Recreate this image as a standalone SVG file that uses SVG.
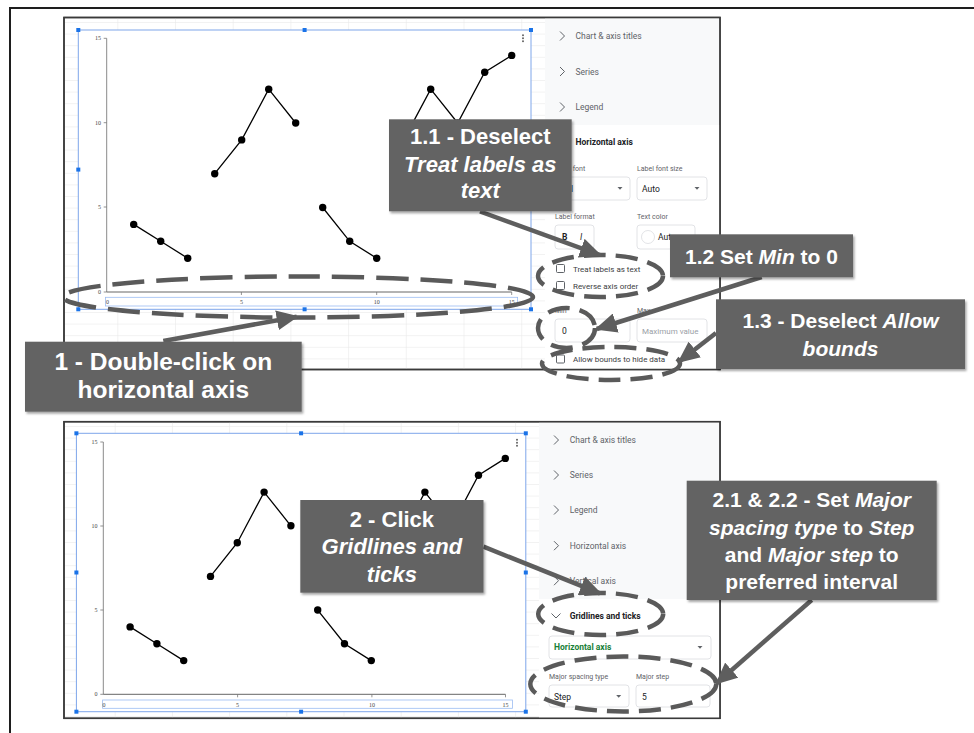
<svg xmlns="http://www.w3.org/2000/svg" width="974" height="733" viewBox="0 0 974 733">
<defs>
<style>
.frame{fill:none;stroke:#1e1e1e;stroke-width:2}
.shot{fill:#fff;stroke:#3a3a3a;stroke-width:1.5}
.shotb{fill:none;stroke:#3a3a3a;stroke-width:1.5}
.chartbg{fill:#fff}
.sel{fill:none;stroke:#7ea6ea;stroke-width:1}
.hdl{fill:#1a73e8}
.axsel{fill:none;stroke:#9bbcf2;stroke-width:0.8}
.yax{stroke:#8a8a8a;stroke-width:1;fill:none}
.xax{stroke:#666;stroke-width:1;fill:none}
.tick{stroke:#777;stroke-width:0.8}
.tl{font-family:"Liberation Serif",serif;font-size:6px;fill:#444}
.ser{fill:none;stroke:#000;stroke-width:1.3}
.dot{fill:#000}
.panel{fill:#f8f9fa}
.card{fill:#fff}
.pt{font-family:Roboto,"Liberation Sans",sans-serif;font-size:8.5px;fill:#5f6368}
.ph{font-family:Roboto,"Liberation Sans",sans-serif;font-size:8.5px;fill:#202124;font-weight:bold}
.pl{font-family:Roboto,"Liberation Sans",sans-serif;font-size:7px;fill:#5f6368}
.pv{font-family:Roboto,"Liberation Sans",sans-serif;font-size:8.5px;fill:#202124}
.pc{font-family:Roboto,"Liberation Sans",sans-serif;font-size:8px;fill:#3c4043}
.pp{font-family:Roboto,"Liberation Sans",sans-serif;font-size:8px;fill:#9aa0a6}
.pg{font-family:Roboto,"Liberation Sans",sans-serif;font-size:8.5px;fill:#188038;font-weight:bold}
.box{fill:#fff;stroke:#dadce0;stroke-width:0.8}
.chk{fill:#fff;stroke:#5f6368;stroke-width:1}
.chev{fill:none;stroke:#5f6368;stroke-width:1}
.dd{fill:#5f6368}
.co{fill:#646464;filter:url(#sh)}
.ct{font-family:"Liberation Sans",Arial,sans-serif;font-weight:bold;fill:#fff;text-anchor:middle}
.arr{stroke:#5e5e5e;stroke-width:4.5;fill:none;marker-end:url(#ah)}
.ell{fill:none;stroke:#5a5a5a;stroke-width:4.5;stroke-dasharray:22 10}
.ellb{fill:none;stroke:#5a5a5a;stroke-width:4.5;stroke-dasharray:32 12}
.menu{fill:#666}
</style>
<filter id="sh" x="-10%" y="-10%" width="130%" height="140%">
<feDropShadow dx="1.5" dy="2" stdDeviation="1.2" flood-color="#000" flood-opacity="0.35"/>
</filter>
<marker id="ah" viewBox="0 0 22 20" refX="20" refY="10" markerWidth="22" markerHeight="20" markerUnits="userSpaceOnUse" orient="auto">
<path d="M0,0 L22,10 L0,20 z" fill="#5e5e5e"/>
</marker>
<pattern id="grid1" x="117.3" y="22" width="57.7" height="11.6" patternUnits="userSpaceOnUse">
<path d="M0,0 V11.6 M0,0 H57.7" stroke="#e6e6e6" stroke-width="1" fill="none"/>
</pattern>
<pattern id="grid2" x="114.7" y="426" width="57.2" height="11.6" patternUnits="userSpaceOnUse">
<path d="M0,0 V11.6 M0,0 H57.2" stroke="#e6e6e6" stroke-width="1" fill="none"/>
</pattern>
</defs>

<rect width="974" height="733" fill="#fff"/>
<path class="frame" d="M10,745 V8 H985"/>

<!-- TOP SCREENSHOT -->
<g id="screenshot1">
<rect class="shot" x="64" y="17.5" width="656" height="352"/>
<rect x="65" y="18.3" width="480" height="350.5" fill="url(#grid1)"/>
<rect class="chartbg" x="78.3" y="30" width="452.7" height="279"/>
<g id="chart1">
<path class="yax" d="M106.7,38.3 V292"/>
<path class="tick" d="M103.7,38.3 H106.7 M103.7,122.7 H106.7 M103.7,207 H106.7 M103.7,292 H106.7"/>
<path class="xax" d="M106.7,292 H511.7"/>
<path class="tick" d="M241.4,292 V295 M376.7,292 V295 M511.7,292 V295"/>
<text class="tl" x="101" y="40.3" text-anchor="end">15</text>
<text class="tl" x="101" y="124.7" text-anchor="end">10</text>
<text class="tl" x="101" y="209" text-anchor="end">5</text>
<text class="tl" x="101" y="294" text-anchor="end">0</text>
<rect class="axsel" x="105.4" y="297.3" width="412.2" height="8.7"/>
<text class="tl" x="107.5" y="304" text-anchor="middle">0</text>
<text class="tl" x="241.4" y="304" text-anchor="middle">5</text>
<text class="tl" x="376.7" y="304" text-anchor="middle">10</text>
<text class="tl" x="511.7" y="304" text-anchor="middle">15</text>
<polyline class="ser" points="133.7,224.4 160.7,241.3 187.7,258.2"/>
<polyline class="ser" points="214.7,173.7 241.7,139.9 268.7,89.2 295.7,123"/>
<polyline class="ser" points="322.7,207.5 349.7,241.3 376.7,258.2"/>
<polyline class="ser" points="403.7,139.9 430.7,89.2 457.7,123 484.7,72.3 511.7,55.4"/>
<g class="dot">
<circle cx="133.7" cy="224.4" r="3.7"/><circle cx="160.7" cy="241.3" r="3.7"/><circle cx="187.7" cy="258.2" r="3.7"/>
<circle cx="214.7" cy="173.7" r="3.7"/><circle cx="241.7" cy="139.9" r="3.7"/><circle cx="268.7" cy="89.2" r="3.7"/><circle cx="295.7" cy="123" r="3.7"/>
<circle cx="322.7" cy="207.5" r="3.7"/><circle cx="349.7" cy="241.3" r="3.7"/><circle cx="376.7" cy="258.2" r="3.7"/>
<circle cx="403.7" cy="139.9" r="3.7"/><circle cx="430.7" cy="89.2" r="3.7"/><circle cx="457.7" cy="123" r="3.7"/><circle cx="484.7" cy="72.3" r="3.7"/><circle cx="511.7" cy="55.4" r="3.7"/>
</g>
<g class="menu"><circle cx="523" cy="35.3" r="1"/><circle cx="523" cy="38.3" r="1"/><circle cx="523" cy="41.3" r="1"/></g>
</g>
<rect class="sel" x="78.3" y="30" width="452.7" height="279.3"/>
<g class="hdl">
<rect x="76.3" y="28" width="4" height="4"/><rect x="302.6" y="28" width="4" height="4"/><rect x="529" y="28" width="4" height="4"/>
<rect x="76.3" y="167.6" width="4" height="4"/><rect x="529" y="167.6" width="4" height="4"/>
<rect x="76.3" y="307.3" width="4" height="4"/><rect x="302.6" y="307.3" width="4" height="4"/><rect x="529" y="307.3" width="4" height="4"/>
</g>
<g id="panel1">
<rect class="panel" x="545" y="18.3" width="174.2" height="350.5"/>
<rect class="card" x="545" y="125" width="174.2" height="243.8"/>
<polyline class="chev" points="560,31.5 564.5,36 560,40.5"/>
<text class="pt" x="575.5" y="39">Chart &amp; axis titles</text>
<polyline class="chev" points="560,67 564.5,71.5 560,76"/>
<text class="pt" x="575.5" y="74.5">Series</text>
<polyline class="chev" points="560,102.5 564.5,107 560,111.5"/>
<text class="pt" x="575.5" y="110">Legend</text>
<text class="ph" x="575.5" y="145">Horizontal axis</text>
<text class="pl" x="554" y="170.5">Label font</text>
<text class="pl" x="637" y="170.5">Label font size</text>
<rect class="box" x="555" y="177" width="75" height="23" rx="3"/>
<text class="pv" x="556" y="191.5">Arial</text>
<path class="dd" d="M617.5,187 h5 l-2.5,2.8 z"/>
<rect class="box" x="637" y="177" width="70" height="23" rx="3"/>
<text class="pv" x="642" y="191.5">Auto</text>
<path class="dd" d="M694.5,187 h5 l-2.5,2.8 z"/>
<text class="pl" x="555" y="218.5">Label format</text>
<text class="pl" x="637" y="218.5">Text color</text>
<rect class="box" x="555" y="225" width="39" height="24" rx="3"/>
<text class="pv" x="562" y="240" font-weight="bold" fill="#5f6368">B</text>
<text class="pv" x="580" y="240" font-style="italic" fill="#5f6368">I</text>
<rect class="box" x="637" y="225" width="58" height="24" rx="3"/>
<circle cx="648" cy="237" r="6.5" fill="#fff" stroke="#dadce0" stroke-width="0.8"/>
<text class="pv" x="658" y="240">Auto</text>
<rect class="chk" x="556.5" y="264.5" width="8" height="8" rx="1"/>
<text class="pc" x="573" y="271.5">Treat labels as text</text>
<rect class="chk" x="556.5" y="281.5" width="8" height="8" rx="1"/>
<text class="pc" x="573" y="288.5">Reverse axis order</text>
<text class="pl" x="555" y="312.5">Min</text>
<text class="pl" x="637" y="312.5">Max</text>
<rect class="box" x="555" y="319" width="75" height="23" rx="3"/>
<text class="pv" x="562" y="334">0</text>
<rect class="box" x="637" y="319" width="70" height="23" rx="3"/>
<text class="pp" x="642" y="334">Maximum value</text>
<rect class="chk" x="556.5" y="355" width="8" height="8" rx="1"/>
<text class="pc" x="573" y="362">Allow bounds to hide data</text>
</g>
<rect class="shotb" x="64" y="17.5" width="656" height="352"/>
</g>

<!-- BOTTOM SCREENSHOT -->
<g id="screenshot2">
<rect class="shot" x="64" y="421.7" width="656" height="296.6"/>
<rect x="65" y="422.5" width="475" height="295" fill="url(#grid2)"/>
<rect class="chartbg" x="76.4" y="433.3" width="449.4" height="278.4"/>
<g id="chart2">
<path class="yax" d="M103.3,442 V694.3"/>
<path class="tick" d="M100.3,442 H103.3 M100.3,526 H103.3 M100.3,610 H103.3 M100.3,694.3 H103.3"/>
<path class="xax" d="M103.3,694.3 H505.5"/>
<path class="tick" d="M237.6,694.3 V697.3 M371.9,694.3 V697.3 M505.5,694.3 V697.3"/>
<text class="tl" x="97.5" y="444" text-anchor="end">15</text>
<text class="tl" x="97.5" y="528" text-anchor="end">10</text>
<text class="tl" x="97.5" y="612" text-anchor="end">5</text>
<text class="tl" x="97.5" y="696.3" text-anchor="end">0</text>
<rect class="axsel" x="102.6" y="700" width="409.8" height="8.3"/>
<text class="tl" x="104" y="706.5" text-anchor="middle">0</text>
<text class="tl" x="237.6" y="706.5" text-anchor="middle">5</text>
<text class="tl" x="371.9" y="706.5" text-anchor="middle">10</text>
<text class="tl" x="505.5" y="706.5" text-anchor="middle">15</text>
<polyline class="ser" points="130.1,626.9 156.9,643.75 183.7,660.6"/>
<polyline class="ser" points="210.5,576.4 237.3,542.7 264.1,492.1 290.9,525.8"/>
<polyline class="ser" points="317.7,610.05 344.5,643.75 371.3,660.6"/>
<polyline class="ser" points="398.1,542.7 424.9,492.1 451.7,525.8 478.5,475.25 505.3,458.4"/>
<g class="dot">
<circle cx="130.1" cy="626.9" r="3.7"/><circle cx="156.9" cy="643.75" r="3.7"/><circle cx="183.7" cy="660.6" r="3.7"/>
<circle cx="210.5" cy="576.4" r="3.7"/><circle cx="237.3" cy="542.7" r="3.7"/><circle cx="264.1" cy="492.1" r="3.7"/><circle cx="290.9" cy="525.8" r="3.7"/>
<circle cx="317.7" cy="610.05" r="3.7"/><circle cx="344.5" cy="643.75" r="3.7"/><circle cx="371.3" cy="660.6" r="3.7"/>
<circle cx="398.1" cy="542.7" r="3.7"/><circle cx="424.9" cy="492.1" r="3.7"/><circle cx="451.7" cy="525.8" r="3.7"/><circle cx="478.5" cy="475.25" r="3.7"/><circle cx="505.3" cy="458.4" r="3.7"/>
</g>
<g class="menu"><circle cx="517" cy="439.7" r="1"/><circle cx="517" cy="442.7" r="1"/><circle cx="517" cy="445.7" r="1"/></g>
</g>
<rect class="sel" x="76.4" y="433.3" width="449.4" height="278.4"/>
<g class="hdl">
<rect x="74.4" y="431.3" width="4" height="4"/><rect x="299.1" y="431.3" width="4" height="4"/><rect x="523.8" y="431.3" width="4" height="4"/>
<rect x="74.4" y="570.5" width="4" height="4"/><rect x="523.8" y="570.5" width="4" height="4"/>
<rect x="74.4" y="709.7" width="4" height="4"/><rect x="299.1" y="709.7" width="4" height="4"/><rect x="523.8" y="709.7" width="4" height="4"/>
</g>
<g id="panel2">
<rect class="panel" x="539" y="422.5" width="180.2" height="295"/>
<rect class="card" x="539" y="599" width="180.2" height="118.5"/>
<polyline class="chev" points="554,435.5 558.5,440 554,444.5"/>
<text class="pt" x="569.7" y="443">Chart &amp; axis titles</text>
<polyline class="chev" points="554,470.5 558.5,475 554,479.5"/>
<text class="pt" x="569.7" y="478">Series</text>
<polyline class="chev" points="554,505.5 558.5,510 554,514.5"/>
<text class="pt" x="569.7" y="513">Legend</text>
<polyline class="chev" points="554,541.2 558.5,545.7 554,550.2"/>
<text class="pt" x="569.7" y="548.7">Horizontal axis</text>
<polyline class="chev" points="554,576.2 558.5,580.7 554,585.2"/>
<text class="pt" x="569.7" y="583.7">Vertical axis</text>
<polyline class="chev" points="551.5,613.5 556,618 560.5,613.5"/>
<text class="ph" x="569.7" y="618.7">Gridlines and ticks</text>
<rect class="box" x="549" y="636" width="162" height="23" rx="3"/>
<text class="pg" x="554" y="650">Horizontal axis</text>
<path class="dd" d="M697.5,646 h5 l-2.5,2.8 z"/>
<text class="pl" x="549" y="678.5">Major spacing type</text>
<text class="pl" x="636" y="678.5">Major step</text>
<rect class="box" x="549" y="685" width="80" height="22" rx="3"/>
<text class="pv" x="554" y="700">Step</text>
<path class="dd" d="M616.2,695 h5 l-2.5,2.8 z"/>
<rect class="box" x="636" y="685" width="74" height="22" rx="3"/>
<text class="pv" x="642" y="700">5</text>
</g>
<rect class="shotb" x="64" y="421.7" width="656" height="296.6"/>
</g>

<!-- HIGHLIGHT ELLIPSES -->
<g id="highlights">
<ellipse class="ellb" cx="298" cy="297" rx="235" ry="20.5"/>
<ellipse class="ell" cx="600.5" cy="276" rx="62.5" ry="21"/>
<ellipse class="ell" cx="566.5" cy="328" rx="28.5" ry="20" stroke-dasharray="20 9"/>
<ellipse class="ell" cx="611" cy="363.5" rx="69" ry="16.5"/>
<ellipse class="ell" cx="600.7" cy="614" rx="62.5" ry="21"/>
<ellipse class="ell" cx="623.3" cy="684" rx="93" ry="27.5" stroke-dasharray="26 11"/>
</g>

<!-- CONNECTORS -->
<g id="connectors">
<line class="arr" x1="163.3" y1="341" x2="296.7" y2="316.7"/>
<line class="arr" x1="480" y1="211.5" x2="600" y2="255"/>
<line class="arr" x1="761.7" y1="277" x2="596.7" y2="329"/>
<line class="arr" x1="716" y1="333" x2="679" y2="361.7"/>
<line class="arr" x1="483.5" y1="546.7" x2="600" y2="593.3"/>
<line class="arr" x1="811.7" y1="600" x2="716.7" y2="683.3"/>
</g>

<!-- CALLOUTS -->
<g id="callout-1">
<rect class="co" x="25" y="341.7" width="276.7" height="70"/>
<text class="ct" x="163.3" y="370" font-size="24.5px">1 - Double-click on</text>
<text class="ct" x="163.3" y="398.3" font-size="24.5px">horizontal axis</text>
</g>
<g id="callout-1-1">
<rect class="co" x="389" y="119.3" width="182.7" height="92"/>
<text class="ct" x="480.3" y="144.3" font-size="22px">1.1 - Deselect</text>
<text class="ct" x="480.3" y="171.7" font-size="22px" font-style="italic">Treat labels as</text>
<text class="ct" x="480.3" y="198.3" font-size="22px" font-style="italic">text</text>
</g>
<g id="callout-1-2">
<rect class="co" x="670" y="234.3" width="183" height="43"/>
<text class="ct" x="761.5" y="264" font-size="21px">1.2 Set <tspan font-style="italic">Min</tspan> to 0</text>
</g>
<g id="callout-1-3">
<rect class="co" x="716" y="299.3" width="249" height="69.7"/>
<text class="ct" x="840.5" y="328.3" font-size="21px">1.3 - Deselect <tspan font-style="italic">Allow</tspan></text>
<text class="ct" x="840.5" y="356" font-size="21px" font-style="italic">bounds</text>
</g>
<g id="callout-2">
<rect class="co" x="300.3" y="500" width="183.2" height="92.7"/>
<text class="ct" x="391.9" y="526.7" font-size="22px">2 - Click</text>
<text class="ct" x="391.9" y="554" font-size="22px" font-style="italic">Gridlines and</text>
<text class="ct" x="391.9" y="581.7" font-size="22px" font-style="italic">ticks</text>
</g>
<g id="callout-2-1">
<rect class="co" x="686.7" y="480.7" width="250" height="119.3"/>
<text class="ct" x="811.7" y="507.3" font-size="21px">2.1 &amp; 2.2 - Set <tspan font-style="italic">Major</tspan></text>
<text class="ct" x="811.7" y="535" font-size="21px"><tspan font-style="italic">spacing type</tspan> to <tspan font-style="italic">Step</tspan></text>
<text class="ct" x="811.7" y="562.3" font-size="21px">and <tspan font-style="italic">Major step</tspan> to</text>
<text class="ct" x="811.7" y="589.3" font-size="21px">preferred interval</text>
</g>
</svg>
